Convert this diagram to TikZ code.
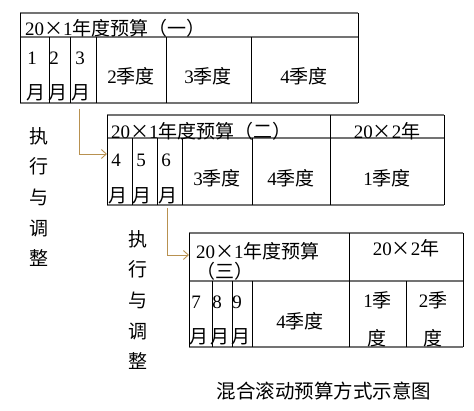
\documentclass[tikz,border=0pt]{standalone}
\usepackage{fontspec}
\setmainfont{Liberation Serif}
\newfontfamily\cjk{Noto Sans CJK SC}
\usetikzlibrary{arrows.meta}
\definecolor{arrowc}{RGB}{184,145,80}
\newcommand\X{\makebox[1em]{\cjk ×}}
\begin{document}
\begin{tikzpicture}[x=1pt,y=-1pt,
  hl/.style={draw=black!55,line width=1.4pt},
  vl/.style={draw=black,line width=0.9pt},
  txt/.style={inner sep=0pt,font=\fontsize{19}{20}\selectfont},
  side/.style={inner sep=0pt,align=center,font=\fontsize{19}{30.7}\selectfont\cjk},
  arr/.style={draw=arrowc,line width=0.9pt,-{Straight Barb[length=5pt,width=9pt]}}]
\useasboundingbox (0,0) rectangle (474,411);
% ---------- table 1 ----------
\node (t1) [inner sep=0pt,minimum width=338pt,minimum height=90pt] at (189,58) {};
\draw[hl] (20,13)--(358,13) (20,37)--(358,37) (20,103)--(358,103);
\draw[vl] (20,13)--(20,103) (358,13)--(358,103)
  (49,37)--(49,103) (70,37)--(70,103) (96,37)--(96,103)
  (166,37)--(166,103) (251,37)--(251,103);
\node (h1) [txt,anchor=west] at (25,28) {20\X1{\cjk 年度预算（一）}};
\node (m1a) [txt] at (32,58) {1};
\node (m1b) [txt] at (36,93) {\cjk 月};
\node (m2a) [txt] at (54,58) {2};
\node (m2b) [txt] at (58,93) {\cjk 月};
\node (m3a) [txt] at (80,58) {3};
\node (m3b) [txt] at (81,93) {\cjk 月};
\node (q12) [txt] at (131,76) {2{\cjk 季度}};
\node (q13) [txt] at (208,76) {3{\cjk 季度}};
\node (q14) [txt] at (304,76) {4{\cjk 季度}};
% ---------- table 2 ----------
\node (t2) [inner sep=0pt,minimum width=337pt,minimum height=90pt] at (275.5,160) {};
\draw[hl] (107,115)--(444,115) (107,138)--(444,138) (107,205)--(444,205);
\draw[vl] (107,115)--(107,205) (444,115)--(444,205) (330,115)--(330,205)
  (132,138)--(132,205) (157,138)--(157,205) (182,138)--(182,205) (252,138)--(252,205);
\node (h2) [txt,anchor=west] at (111,131) {20\X1{\cjk 年度预算（二）}};
\node (h2b) [txt] at (387,131) {20\X2{\cjk 年}};
\node (m4a) [txt] at (116,160) {4};
\node (m4b) [txt] at (118,196) {\cjk 月};
\node (m5a) [txt] at (141,160) {5};
\node (m5b) [txt] at (142,196) {\cjk 月};
\node (m6a) [txt] at (166,160) {6};
\node (m6b) [txt] at (168,196) {\cjk 月};
\node (q23) [txt] at (217,178) {3{\cjk 季度}};
\node (q24) [txt] at (291,178) {4{\cjk 季度}};
\node (q21) [txt] at (387,178) {1{\cjk 季度}};
% ---------- table 3 ----------
\node (t3) [inner sep=0pt,minimum width=274pt,minimum height=114pt] at (326,290) {};
\draw[hl] (189,233)--(463,233) (189,281)--(463,281) (189,347)--(463,347);
\draw[vl] (189,233)--(189,347) (463,233)--(463,347) (349,233)--(349,347)
  (212,281)--(212,347) (232,281)--(232,347) (252,281)--(252,347) (406,281)--(406,347);
\node (h3) [txt,anchor=north west,align=left] at (196,242) {20\X1{\cjk 年度预算}\\{\cjk （三）}};
\node (h3b) [txt] at (406,248) {20\X2{\cjk 年}};
\node (m7a) [txt] at (196,302) {7};
\node (m7b) [txt] at (199,337) {\cjk 月};
\node (m8a) [txt] at (217,302) {8};
\node (m8b) [txt] at (220,337) {\cjk 月};
\node (m9a) [txt] at (237,302) {9};
\node (m9b) [txt] at (241,337) {\cjk 月};
\node (q34) [txt] at (300,321) {4{\cjk 季度}};
\node (q31a) [txt] at (377.5,300) {1{\cjk 季}};
\node (q31b) [txt] at (377,338) {\cjk 度};
\node (q32a) [txt] at (433,300) {2{\cjk 季}};
\node (q32b) [txt] at (433,338) {\cjk 度};
% ---------- side texts ----------
\node (s1) [side] at (39,197) {执\\行\\与\\调\\整};
\node (s2) [side] at (137.5,300) {执\\行\\与\\调\\整};
% ---------- arrows ----------
\coordinate (a1s) at (79,109);
\coordinate (a1e) at (107,154);
\coordinate (a2s) at (167,208);
\coordinate (a2e) at (189,255);
\draw[arr] (a1s) |- (a1e);
\draw[arr] (a2s) |- (a2e);
% ---------- caption ----------
\node (cap) [inner sep=0pt,font=\fontsize{19.5}{20}\selectfont\cjk] at (324,391) {混合滚动预算方式示意图};
\end{tikzpicture}
\end{document}
